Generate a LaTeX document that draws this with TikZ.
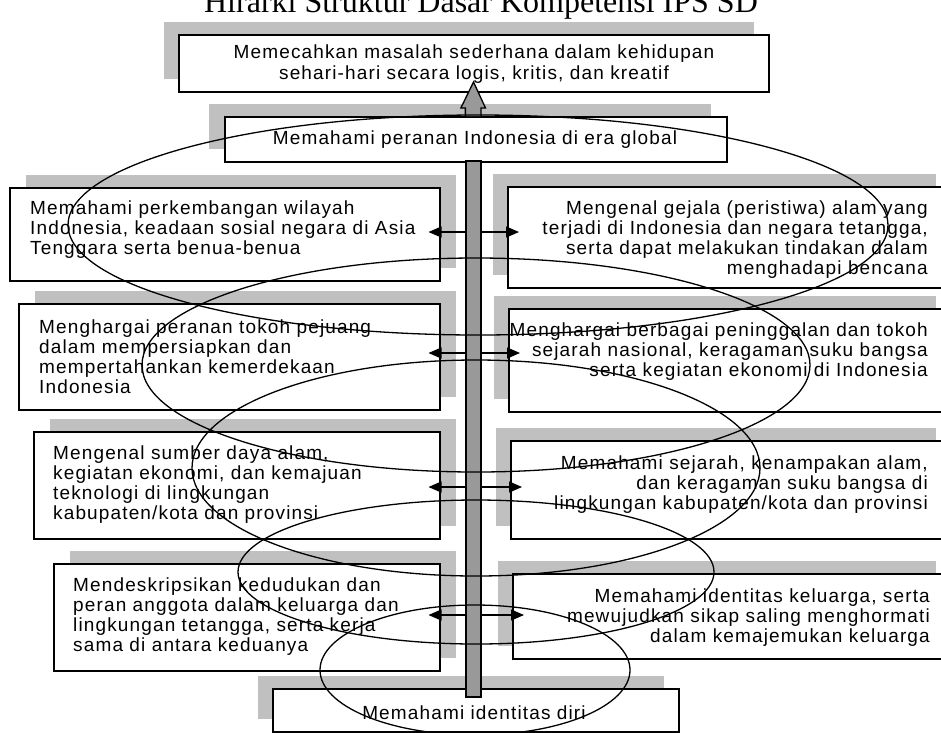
\documentclass[tikz,border=0pt]{standalone}
\usepackage{fontspec}
\setmainfont{Liberation Sans}[LetterSpace=6]
\newfontfamily\titlefont{Liberation Serif}
\usetikzlibrary{arrows.meta, shadows}
\definecolor{ShadowGray}{RGB}{192,192,192}
\definecolor{BarGray}{RGB}{153,153,153}
\newcommand\boxfont{\fontsize{19}{20}\selectfont}

\begin{document}
\begin{tikzpicture}[x=1pt, y=-1pt,
    shade/.style={drop shadow={shadow xshift=#1, shadow yshift=13pt, opacity=1, fill=ShadowGray}},
    box/.style={draw, line width=1.5pt, fill=white, anchor=north west, inner sep=0pt},
    ltext/.style={anchor=west, align=left, inner sep=0pt, font=\boxfont},
    rtext/.style={anchor=east, align=right, inner sep=0pt, font=\boxfont},
    ctext/.style={align=center, inner sep=0pt, font=\boxfont},
    stem/.style={draw, line width=1.3pt, fill=BarGray, inner sep=0pt},
    link/.style={line width=1.2pt, shorten >=-12pt, -{Triangle[length=13pt, width=11pt]}},
    coil/.style={line width=1.3pt}]

    \useasboundingbox (0,0) rectangle (941,732);

    \node[font=\titlefont\fontsize{32}{32}\selectfont, anchor=base] (title) at (481,12)
        {Hirarki Struktur Dasar Kompetensi IPS SD};

    % Top and bottom
    \node[box, shade=-15pt, minimum width=590pt, minimum height=57pt] (goal) at (178,34) {};
    \node[ctext, font=\fontsize{19}{21}\selectfont] (goal-text) at (474,64.5)
        {Memecahkan masalah sederhana dalam kehidupan\\sehari-hari secara logis, kritis, dan kreatif};

    \node[box, shade=-15pt, minimum width=406pt, minimum height=43pt] (self) at (272,688) {};
    \node[ctext] (self-text) at (474,713) {Memahami identitas diri};

    \node[box, shade=-16pt, minimum width=502pt, minimum height=45pt] (global) at (224,116) {};
    \node[ctext] (global-text) at (475,140) {Memahami peranan Indonesia di era global};

    % Stem
    \node[stem, minimum width=15pt, minimum height=536pt] (stem) at (473.5,429) {};
    \coordinate (tip) at (473.5,82);
    \draw[line width=1.3pt, fill=BarGray]
        (global.north -| stem.west) -- ++(0,-8) -- ++(-4.5,0) -- (tip)
        -- ++(12,26) -- ++(-4.5,0) -- ++(0,8);

    % Left
    \node[box, shade=16pt, minimum width=430pt, minimum height=93pt] (l1) at (9,187) {};
    \node[box, shade=16pt, minimum width=421pt, minimum height=106pt] (l2) at (18,303) {};
    \node[box, shade=16pt, minimum width=406pt, minimum height=107pt] (l3) at (33,431) {};
    \node[box, shade=16pt, minimum width=386pt, minimum height=107pt] (l4) at (53,563) {};

    \node[ltext] (l1-text) at (30,230)
        {Memahami perkembangan wilayah\\Indonesia, keadaan sosial negara di Asia\\Tenggara serta benua-benua};
    \node[ltext] (l2-text) at (39,357)
        {Menghargai peranan tokoh pejuang\\dalam mempersiapkan dan\\mempertahankan kemerdekaan\\Indonesia};
    \node[ltext] (l3-text) at (53,485)
        {Mengenal sumber daya alam,\\kegiatan ekonomi, dan kemajuan\\teknologi di lingkungan\\kabupaten/kota dan provinsi};
    \node[ltext] (l4-text) at (73,617)
        {Mendeskripsikan kedudukan dan\\peran anggota dalam keluarga dan\\lingkungan tetangga, serta kerja\\sama di antara keduanya};

    % Right
    \node[box, shade=-15pt, minimum width=443pt, minimum height=101pt] (r1) at (507,186) {};
    \node[box, shade=-15pt, minimum width=442pt, minimum height=103pt] (r2) at (508,308) {};
    \node[box, shade=-15pt, minimum width=440pt, minimum height=98pt] (r3) at (510,440) {};
    \node[box, shade=-15pt, minimum width=438pt, minimum height=85pt] (r4) at (512,573) {};

    \node[rtext] (r1-text) at (928,240)
        {Mengenal gejala (peristiwa) alam yang\\terjadi di Indonesia dan negara tetangga,\\serta dapat melakukan tindakan dalam\\menghadapi bencana};
    \node[rtext] (r2-text) at (928,352)
        {Menghargai berbagai peninggalan dan tokoh\\sejarah nasional, keragaman suku bangsa\\serta kegiatan ekonomi di Indonesia};
    \node[rtext] (r3-text) at (928,485)
        {Memahami sejarah, kenampakan alam,\\dan keragaman suku bangsa di\\lingkungan kabupaten/kota dan provinsi};
    \node[rtext] (r4-text) at (930,617.5)
        {Memahami identitas keluarga, serta\\mewujudkan sikap saling menghormati\\dalam kemajemukan keluarga};

    % Arrows
    \coordinate (row1) at (0,232);
    \coordinate (row2) at (0,353);
    \coordinate (row3) at (0,487);
    \coordinate (row4) at (0,615);
    \foreach \i in {1,...,4} {
        \draw[link] (stem.west |- row\i) -- (l\i.east |- row\i);
        \draw[link] (stem.east |- row\i) -- (r\i.west |- row\i);
    }

    % Spiral
    \foreach \cx/\cy/\rx/\ry in {478/225/410/110, 476/365/334/107, 476/468/284/108,
                                 476/572/238/72, 475/670/155/65} {
        \draw[coil] (\cx,\cy) ellipse [x radius=\rx pt, y radius=\ry pt];
    }

\end{tikzpicture}
\end{document}
